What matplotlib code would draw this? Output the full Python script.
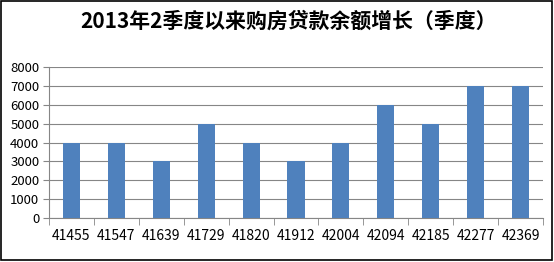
import matplotlib
matplotlib.use("Agg")
import matplotlib.pyplot as plt
from matplotlib.patches import Rectangle

plt.rcParams['font.family'] = ['Noto Sans CJK SC', 'DejaVu Sans']

categories = ["41455", "41547", "41639", "41729", "41820", "41912",
              "42004", "42094", "42185", "42277", "42369"]
values = [4000, 4000, 3000, 5000, 4000, 3000, 4000, 6000, 5000, 7000, 7000]
yticks = [0, 1000, 2000, 3000, 4000, 5000, 6000, 7000, 8000]
title = "2013年2季度以来购房贷款余额增长（季度）"

fig = plt.figure(figsize=(5.54, 2.62), dpi=100)
ax = fig.add_axes([49/554, 1 - 218/262, (543 - 49)/554, (218 - 67)/262])

x = list(range(len(categories)))
ax.bar(x, values, width=0.38, color="#4F81BD", zorder=3)
ax.set_xlim(-0.5, len(categories) - 0.5)
ax.set_ylim(0, 8000)
ax.set_yticks(yticks)
ax.set_yticklabels([str(v) for v in yticks], fontsize=9.5)
ax.set_xticks(x)
ax.set_xticklabels(categories, fontsize=10)
ax.tick_params(axis='x', length=0, pad=8)
ax.tick_params(axis='y', length=4, color="#868686", pad=3)
ax.set_xticks([i - 0.5 for i in range(len(categories) + 1)], minor=True)
ax.tick_params(axis='x', which='minor', length=5, color="#868686")
ax.grid(axis='y', color="#868686", linewidth=0.8, zorder=0)
for s in ['top', 'right']:
    ax.spines[s].set_visible(False)
for s in ['left', 'bottom']:
    ax.spines[s].set_color("#868686")
    ax.spines[s].set_linewidth(0.8)

fig.text(0.521, 1 - 21/262, title, ha='center', va='center', fontsize=15,
         fontweight='bold')

fig.patches.append(Rectangle((0.5/554, 2/262), 551/554, 259/262, transform=fig.transFigure,
                             fill=False, edgecolor="black", linewidth=1.2))
fig.savefig("out.png", dpi=100)
